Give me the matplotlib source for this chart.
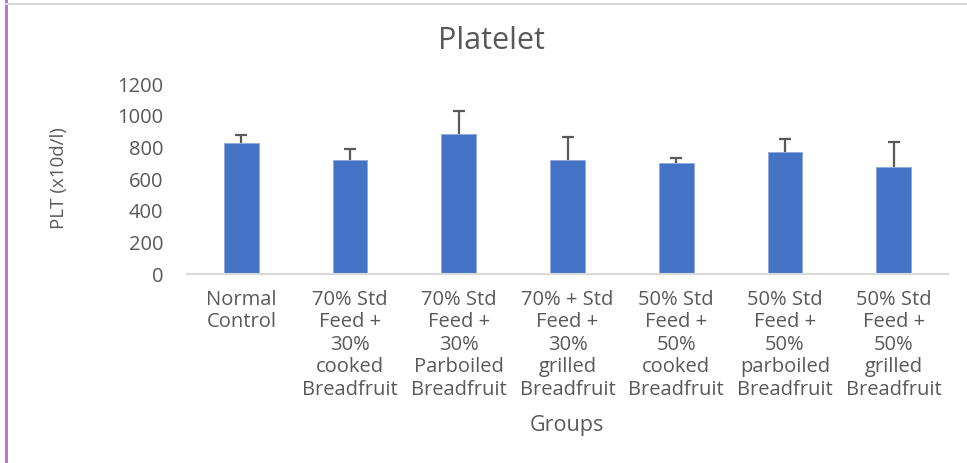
import matplotlib
matplotlib.use("Agg")
import matplotlib.pyplot as plt
from matplotlib.lines import Line2D

groups = ["Normal\nControl",
          "70% Std\nFeed +\n30%\ncooked\nBreadfruit",
          "70% Std\nFeed +\n30%\nParboiled\nBreadfruit",
          "70% + Std\nFeed +\n30%\ngrilled\nBreadfruit",
          "50% Std\nFeed +\n50%\ncooked\nBreadfruit",
          "50% Std\nFeed +\n50%\nparboiled\nBreadfruit",
          "50% Std\nFeed +\n50%\ngrilled\nBreadfruit"]
plt_means = [830, 719, 883, 721, 700, 771, 678]
plt_err = [48, 73, 149, 145, 33, 80, 158]
yticks = [0, 200, 400, 600, 800, 1000, 1200]

plt.rcParams['font.family'] = ['Open Sans', 'DejaVu Sans']
txt = '#595959'

fig = plt.figure(figsize=(9.67, 4.63), dpi=100)
ax = fig.add_axes([187/967, 1 - 274.3/463, (948-187)/967, (274.3-84)/463])

x = list(range(len(groups)))
ax.bar(x, plt_means, width=0.32, color='#4472C4', edgecolor='#8FAADC', linewidth=0.6, zorder=2)
tops = [m + e for m, e in zip(plt_means, plt_err)]
ax.vlines(x, plt_means, tops, color='#595959', linewidth=1.6, zorder=3)
ax.plot(x, tops, linestyle='none', marker='_', markersize=8.5, markeredgewidth=1.6,
        color='#595959', zorder=3)

ax.set_xlim(-0.5, 6.5)
ax.set_ylim(0, 1200)
ax.set_yticks(yticks)
ax.set_yticklabels([str(v) for v in yticks])
ax.set_xticks(x)
ax.set_xticklabels(groups, linespacing=1.17)
for s in ['top', 'right', 'left']:
    ax.spines[s].set_visible(False)
ax.spines['bottom'].set_color('#D9D9D9')
ax.spines['bottom'].set_linewidth(1.5)
ax.tick_params(axis='both', length=0, labelsize=14.5, labelcolor=txt)
ax.tick_params(axis='x', pad=11)
ax.tick_params(axis='y', pad=17)

ax.yaxis.set_label_coords(59/967, 0, transform=fig.transFigure)
ax.set_ylabel("PLT (x10d/l)", fontsize=13.5, color=txt)
ax.yaxis.label.set_verticalalignment('center')
ax.yaxis.label.set_y(1 - 178/463)
ax.yaxis.label.set_x(59/967)
ax.set_xlabel("Groups", fontsize=15.5, color=txt)
ax.xaxis.set_label_coords(567/967, 1 - 425/463, transform=fig.transFigure)
ax.xaxis.label.set_verticalalignment('center')
fig.text(491/967, 1 - 41/463, "Platelet", ha='center', va='center', fontsize=22, color=txt)

# border lines
fig.add_artist(Line2D([5.5/967, 5.5/967], [0, 1], color='#B070C8', linewidth=2, transform=fig.transFigure))
fig.add_artist(Line2D([6/967, 1], [1 - 4/463, 1 - 4/463], color='#D9D9D9', linewidth=1.5, transform=fig.transFigure))

fig.savefig("out.png", dpi=100)
